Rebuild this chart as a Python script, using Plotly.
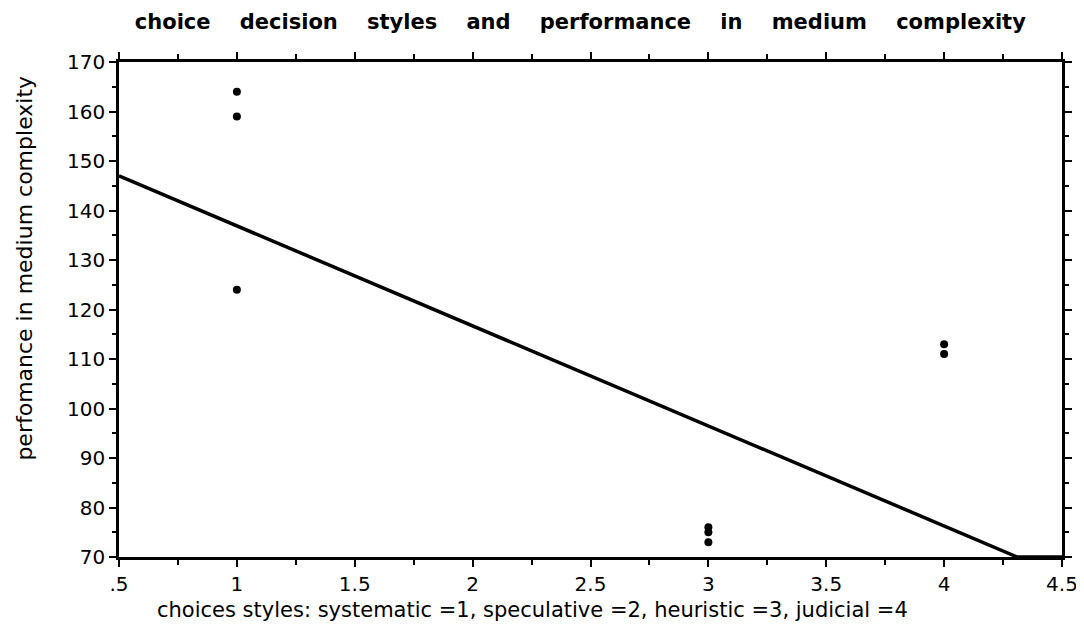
import plotly.graph_objects as go

# data
style_codes = [1, 1, 1, 3, 3, 3, 4, 4]
performance = [164, 159, 124, 76, 75, 73, 113, 111]
fit_x = [0.5, 4.31]
fit_y = [147, 70]
fit_tail_x = [4.31, 4.5]
fit_tail_y = [70, 70]
x_tick_vals = [0.5, 1, 1.5, 2, 2.5, 3, 3.5, 4, 4.5]
x_tick_text = [".5", "1", "1.5", "2", "2.5", "3", "3.5", "4", "4.5"]
y_tick_vals = [70, 80, 90, 100, 110, 120, 130, 140, 150, 160, 170]

FONT = "DejaVu Sans, Liberation Sans, Arial"
title_text = "\u00a0\u00a0\u00a0\u00a0".join("choice decision styles and performance in medium complexity".split(" "))

fig = go.Figure()
fig.add_trace(go.Scatter(x=fit_x, y=fit_y, mode="lines",
                         line=dict(color="black", width=3.5), showlegend=False))
fig.add_trace(go.Scatter(x=fit_tail_x, y=fit_tail_y, mode="lines",
                         line=dict(color="black", width=3.5), showlegend=False))
fig.add_trace(go.Scatter(x=style_codes, y=performance, mode="markers",
                         marker=dict(color="black", size=8), showlegend=False))

axis_common = dict(showgrid=False, zeroline=False, showline=True, linecolor="black",
                   linewidth=2.5, mirror="ticks", ticks="outside", ticklen=7,
                   tickwidth=2, tickcolor="black", automargin=False,
                   tickfont=dict(family=FONT, size=20, color="black"))

fig.update_xaxes(range=[0.5, 4.5], tickvals=x_tick_vals, ticktext=x_tick_text,
                 minor=dict(dtick=0.25, ticks="outside", ticklen=5, tickwidth=2, tickcolor="black"),
                 **axis_common)
fig.update_yaxes(range=[70, 170], tickvals=y_tick_vals,
                 minor=dict(dtick=5, tick0=70, ticks="outside", ticklen=4, tickwidth=2, tickcolor="black"),
                 **axis_common)

fig.update_layout(
    width=1084, height=626,
    margin=dict(l=111, r=30, t=54, b=77),
    plot_bgcolor="white", paper_bgcolor="white",
    title=dict(text="<b>" + title_text + "</b>", x=0.528, xanchor="center", y=1 - 14 / 626, yanchor="middle",
               font=dict(family=FONT, size=21, color="black")),
    annotations=[
        dict(text="choices styles: systematic =1, speculative =2, heuristic =3, judicial =4",
             xref="paper", yref="paper", x=0.438, y=-0.107, xanchor="center", yanchor="middle",
             showarrow=False, font=dict(family=FONT, size=21, color="black")),
        dict(text="perfomance in medium complexity",
             xref="paper", yref="paper", x=-0.1, y=0.584, xanchor="center", yanchor="middle",
             textangle=-90, showarrow=False, font=dict(family=FONT, size=22, color="black")),
    ],
)

fig.write_html("out.html")
